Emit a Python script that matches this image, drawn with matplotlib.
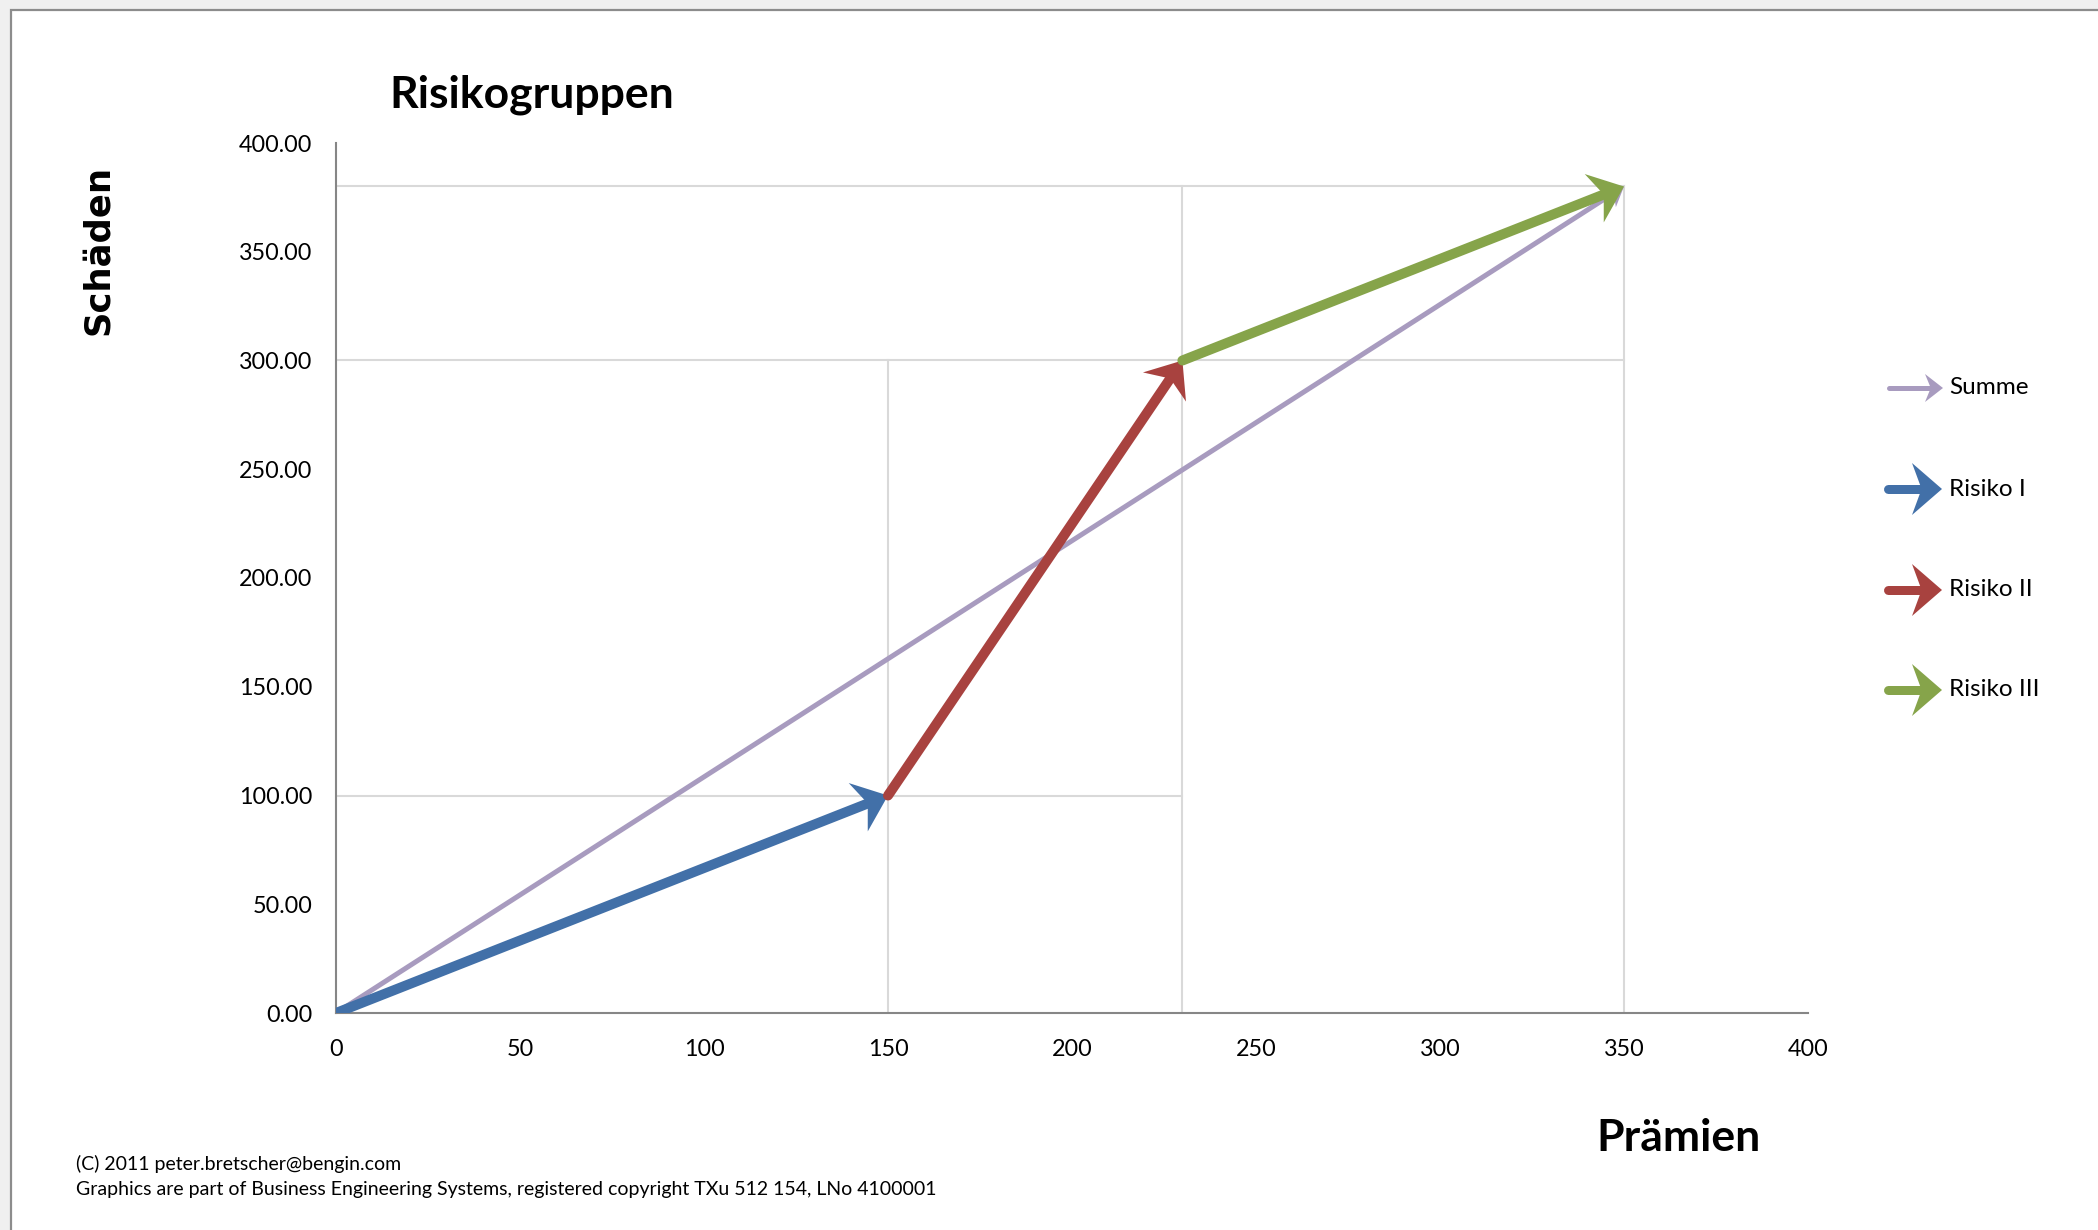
import numpy as np
import matplotlib
matplotlib.use("Agg")
import matplotlib.pyplot as plt
from matplotlib.patches import Polygon, Rectangle

# Daten (kumulierte Punkte der Risikogruppen)
risiko_namen = ['Risiko I', 'Risiko II', 'Risiko III']
praemien_kum = [0, 150, 230, 350]
schaeden_kum = [0, 100, 300, 380]
farben = ['#4270a8', '#a8423f', '#86a44a']
farbe_summe = '#a89bbf'

x_ticks = [0, 50, 100, 150, 200, 250, 300, 350, 400]
y_ticks = [0, 50, 100, 150, 200, 250, 300, 350, 400]

plt.rcParams['font.family'] = ['Lato', 'DejaVu Sans']

W, H = 2098, 1230
fig = plt.figure(figsize=(W / 100, H / 100), dpi=100, facecolor='#f0f0f0')

# overlay in pixel coords for frame + legend
ov = fig.add_axes([0, 0, 1, 1], zorder=0)
ov.set_xlim(0, W)
ov.set_ylim(H, 0)
ov.axis('off')
ov.add_patch(Rectangle((11, 10), W + 20, H + 20, facecolor='white',
                       edgecolor='#8c8c8c', lw=1.6))

ax = fig.add_axes([336 / W, 217 / H, 1472 / W, 870 / H], zorder=1)
ax.set_xlim(0, 400)
ax.set_ylim(0, 400)
ax.set_facecolor('none')


def draw_arrow(a, x0, y0, x1, y1, color, lw_px, head_len, head_half, z):
    tr = a.transData
    p0 = tr.transform((x0, y0))
    p1 = tr.transform((x1, y1))
    d = p1 - p0
    u = d / np.hypot(*d)
    n = np.array([-u[1], u[0]])
    back = p1 - u * head_len
    notch = p1 - u * head_len * 0.68
    verts = tr.inverted().transform([p1, back + n * head_half, notch, back - n * head_half])
    end = tr.inverted().transform(notch)
    a.plot([x0, end[0]], [y0, end[1]], color=color, lw=lw_px * 0.72,
           solid_capstyle='round', zorder=z)
    a.add_patch(Polygon(verts, closed=True, facecolor=color, lw=0, zorder=z))


# Hilfslinien
n_pts = len(praemien_kum)
for i in range(1, n_pts):
    j = min(i + 1, n_pts - 1)
    ax.plot([0, praemien_kum[j]], [schaeden_kum[i]] * 2, color='#d9d9d9', lw=1.5, zorder=1)
    ax.plot([praemien_kum[i]] * 2, [0, schaeden_kum[j]], color='#d9d9d9', lw=1.5, zorder=1)

# Summe
draw_arrow(ax, praemien_kum[0], schaeden_kum[0], praemien_kum[-1], schaeden_kum[-1],
           farbe_summe, 5, 18, 13, 2)
# Risikogruppen
for i in range(len(risiko_namen)):
    draw_arrow(ax, praemien_kum[i], schaeden_kum[i], praemien_kum[i + 1], schaeden_kum[i + 1],
               farben[i], 10, 32, 26, 3 + i)

ax.set_xticks(x_ticks)
ax.set_yticks(y_ticks)
ax.set_yticklabels(['%.2f' % v for v in y_ticks])
ax.tick_params(length=0, labelsize=16.8, colors='black')
ax.tick_params(axis='y', pad=17)
ax.tick_params(axis='x', pad=18.5)
for s in ['top', 'right']:
    ax.spines[s].set_visible(False)
for s in ['left', 'bottom']:
    ax.spines[s].set_color('#868686')
    ax.spines[s].set_linewidth(1.5)

# Texte
fig.text(532 / W, 1 - 95 / H, 'Risikogruppen', fontsize=32, fontweight='bold',
         ha='center', va='center')
fig.text(98 / W, 1 - 250 / H, 'Schäden', fontsize=25.5, fontweight='bold',
         family='DejaVu Sans', rotation=90, ha='center', va='center')
fig.text(1678 / W, 1 - 1138 / H, 'Prämien', fontsize=32, fontweight='bold',
         ha='center', va='center')
fig.text(76 / W, 1 - 1164 / H, '(C) 2011 peter.bretscher@bengin.com',
         fontsize=14, ha='left', va='center')
fig.text(76 / W, 1 - 1190 / H,
         'Graphics are part of Business Engineering Systems, registered copyright TXu 512 154, LNo 4100001',
         fontsize=14, ha='left', va='center')

# Legende
leg_namen = ['Summe'] + risiko_namen
leg_farben = [farbe_summe] + farben
leg_y = [388, 489, 590, 690]
for k in range(4):
    if k == 0:
        draw_arrow(ov, 1889, leg_y[k], 1943, leg_y[k], leg_farben[k], 5, 18, 14, 2)
    else:
        draw_arrow(ov, 1888, leg_y[k], 1942, leg_y[k], leg_farben[k], 9, 30, 26, 2)
    ov.text(1949, leg_y[k], leg_namen[k], fontsize=17.5, ha='left', va='center')

fig.savefig('out.png', dpi=100, facecolor=fig.get_facecolor())
